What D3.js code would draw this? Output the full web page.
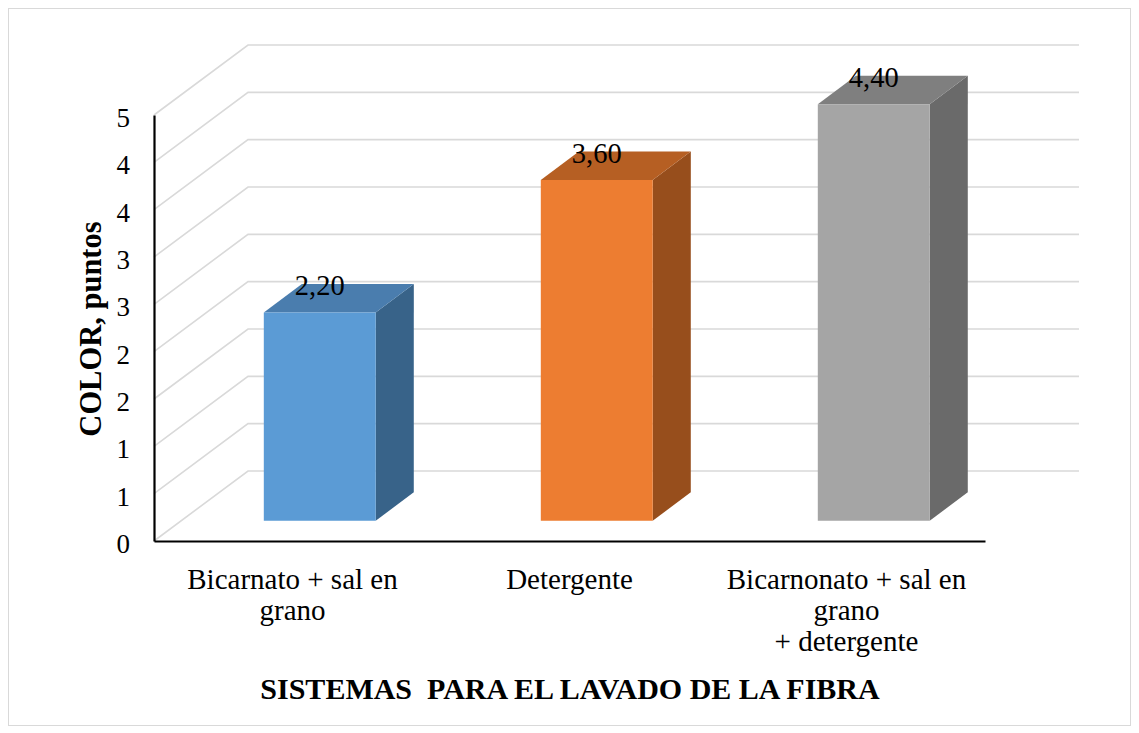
<!DOCTYPE html>
<html>
<head>
<meta charset="utf-8">
<script src="https://cdn.jsdelivr.net/npm/d3@7"></script>
<style>
  html, body { margin: 0; padding: 0; background: #fff; }
  svg { display: block; font-family: "Liberation Serif", "Times New Roman", serif; }
</style>
</head>
<body>
<svg id="chart" width="1139" height="733"></svg>
<script>
// Data
const categories = ["Bicarnato + sal en grano", "Detergente", "Bicarnonato + sal en grano + detergente"];
const categoryLines = [["Bicarnato + sal en", "grano"], ["Detergente"], ["Bicarnonato + sal en", "grano", "+ detergente"]];
const values = [2.20, 3.60, 4.40];
const tickValues = [0, 0.5, 1, 1.5, 2, 2.5, 3, 3.5, 4, 4.5];
const tickLabels = ["0", "1", "1", "2", "2", "3", "3", "4", "4", "5"];
const frontColors = ["#5B9BD5", "#ED7D31", "#A5A5A5"];
const topColors = ["#4A7DAE", "#B65F23", "#7F7F7F"];
const sideColors = ["#386389", "#974E1C", "#6A6A6A"];
const yTitle = "COLOR, puntos";
const xTitle = "SISTEMAS  PARA EL LAVADO DE LA FIBRA";

const svg = d3.select("#chart");

// Outer frame
svg.append("rect")
  .attr("x", 8.5).attr("y", 8.5).attr("width", 1122).attr("height", 717)
  .attr("fill", "none").attr("stroke", "#d9d9d9").attr("stroke-width", 1);

// Plot geometry (oblique projection: depth shifts right and up)
const left = 154, right = 985, floorY = 541, topY = 115;
const depthDX = 94, depthDY = -70;
const barFront = 0.29, barBack = 0.695;

const x = d3.scaleBand().domain(categories).range([left, right]).paddingInner(0.596).paddingOuter(0.298);
const y = d3.scaleLinear().domain([0, 4.5]).range([floorY, topY]);

const proj = (px, py, t) => [px + t * depthDX, py + t * depthDY];

// Gridlines: side wall diagonal + back wall horizontal
const grid = svg.append("g").attr("fill", "none").attr("stroke", "#d9d9d9").attr("stroke-width", 1.6);
tickValues.forEach(v => {
  const p0 = [left, y(v)];
  const p1 = proj(left, y(v), 1);
  const p2 = proj(right, y(v), 1);
  grid.append("path").attr("d", d3.line()([p0, p1, p2]));
});

// Bars: front, side and top faces
const bars = svg.append("g");
values.forEach((v, i) => {
  const x0 = x(categories[i]), x1 = x0 + x.bandwidth();
  const yb = y(0), yt = y(v);
  const f = pts => d3.line()(pts) + "Z";
  const FL_B = proj(x0, yb, barFront), FR_B = proj(x1, yb, barFront);
  const FL_T = proj(x0, yt, barFront), FR_T = proj(x1, yt, barFront);
  const BR_B = proj(x1, yb, barBack), BR_T = proj(x1, yt, barBack), BL_T = proj(x0, yt, barBack);
  bars.append("path").attr("d", f([FR_B, BR_B, BR_T, FR_T])).attr("fill", sideColors[i]);
  bars.append("path").attr("d", f([FL_T, FR_T, BR_T, BL_T])).attr("fill", topColors[i]);
  bars.append("path").attr("d", f([FL_B, FR_B, FR_T, FL_T])).attr("fill", frontColors[i]);
  bars.append("text")
    .attr("x", (FL_T[0] + FR_T[0]) / 2).attr("y", FL_T[1] - 17)
    .attr("text-anchor", "middle").attr("font-size", 28.5).attr("fill", "#000")
    .text(v.toFixed(2).replace(".", ","));
});

// Y axis
const yAxis = svg.append("g").attr("transform", `translate(${left},0)`)
  .call(d3.axisLeft(y).tickValues(tickValues).tickFormat((d, i) => tickLabels[i]).tickSize(0).tickSizeOuter(0).tickPadding(24));
yAxis.select(".domain").attr("stroke", "#000").attr("stroke-width", 2.2);
yAxis.selectAll("text").attr("font-size", 27).attr("font-family", "Liberation Serif").attr("fill", "#000").attr("dy", "0.42em");

// X axis
const xAxis = svg.append("g").attr("transform", `translate(0,${floorY})`)
  .call(d3.axisBottom(x).tickSize(0).tickSizeOuter(0).tickFormat(""));
xAxis.select(".domain").attr("stroke", "#000").attr("stroke-width", 2.2);

// Category labels (multi-line)
categories.forEach((c, i) => {
  const cx = x(c) + x.bandwidth() / 2;
  const t = svg.append("text").attr("text-anchor", "middle").attr("font-size", 29).attr("fill", "#000");
  categoryLines[i].forEach((line, j) => {
    t.append("tspan").attr("x", cx).attr("y", 589 + j * 31).text(line);
  });
});

// Axis titles
svg.append("text")
  .attr("transform", "translate(101,329) rotate(-90)")
  .attr("text-anchor", "middle").attr("font-size", 30.5).attr("font-weight", "bold").attr("fill", "#000")
  .text(yTitle);

svg.append("text")
  .attr("x", 570).attr("y", 699)
  .attr("text-anchor", "middle").attr("font-size", 30).attr("font-weight", "bold").attr("fill", "#000")
  .style("white-space", "pre")
  .text(xTitle);
</script>
</body>
</html>
